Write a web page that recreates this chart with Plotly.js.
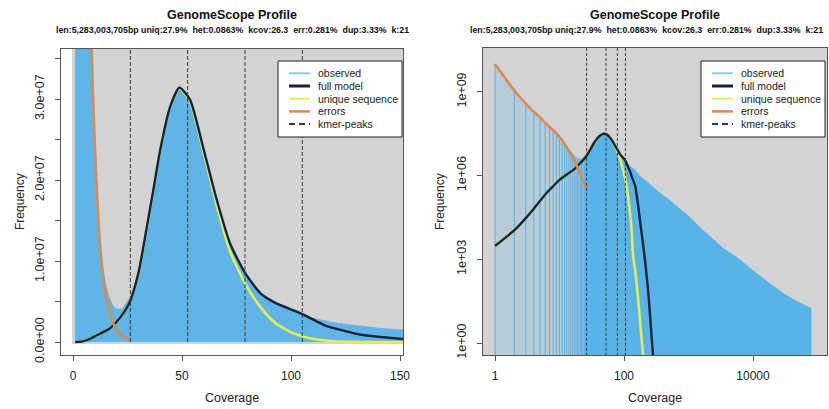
<!DOCTYPE html>
<html><head><meta charset="utf-8">
<script src="https://cdn.plot.ly/plotly-3.0.1.min.js"></script>
<style>html,body{margin:0;padding:0;background:#fff}</style>
</head><body><div id="chart" style="width:829px;height:409px"></div>
<script>
// ---------------- data ----------------
const obsX = [1,2,3,4,5,6,7,8,9,10,11,12,13,14,15,16,17,18,19,20,21,22,23,24,25,26,27,28,29,30,
  33,36,40,44,48,52,56,60,66,72,79,86,93,100,110,120,130,140,150,175,200,250,300,400,517,700,1000,1690,2500,3500,5600,8000,12000,18300,30000,50000,80000];
const obsY = [1.0e10,1.1e9,3.8e8,1.9e8,1.2e8,7.8e7,5.5e7,4.3e7,3.3e7,2.5e7,1.95e7,1.45e7,1.1e7,8.9e6,7.3e6,6.1e6,5.3e6,4.7e6,4.3e6,4.1e6,4.0e6,4.1e6,4.3e6,4.7e6,5.1e6,5.5e6,6.2e6,7.0e6,7.8e6,8.8e6,
  1.25e7,1.7e7,2.37e7,2.85e7,3.13e7,3.05e7,2.75e7,2.37e7,1.75e7,1.22e7,8.6e6,6.1e6,4.9e6,4.1e6,3.0e6,2.4e6,2.05e6,1.75e6,1.55e6,1.0e6,7.6e5,4.9e5,3.5e5,2.0e5,1.3e5,7.2e4,3.6e4,1.1e4,5.0e3,2.5e3,1.2e3,6.0e2,2.9e2,1.4e2,60,30,18];

const modelX = [1,2,3,4,6,8,10,13,17,20,23,26,30,34,37,40,44.5,48.8,53.7,60,66,72,79,86,93,104,116,125,132,140,150,160,167,180,200,220,238,255,270,290];
const modelY = [3e3,1.1e4,3e4,6.5e4,2.1e5,4.2e5,7e5,1.1e6,1.7e6,2.5e6,3.5e6,4.9e6,8.5e6,1.44e7,1.9e7,2.37e7,2.9e7,3.14e7,2.99e7,2.37e7,1.75e7,1.22e7,8.5e6,6.0e6,4.8e6,3.6e6,2.0e6,1.35e6,9e5,6.5e5,4e5,1.5e5,7.4e4,1.8e4,2.8e3,4e2,63,8,1.3,0.15];

const uniqX = [1,2,3,4,6,8,10,13,17,20,23,26,30,34,37,40,44.5,48.8,53.7,60,66,72,79,86,93,101,110,120,130,139,150,165,188,205];
const uniqY = [3e3,1.1e4,3e4,6.5e4,2.1e5,4.2e5,7e5,1.1e6,1.7e6,2.5e6,3.5e6,4.9e6,8.5e6,1.44e7,1.9e7,2.37e7,2.9e7,3.13e7,2.97e7,2.33e7,1.68e7,1.12e7,7.2e6,4.3e6,2.3e6,1.1e6,4e5,9e4,1.5e4,1.2e3,3.5e2,40,1.3,0.15];

const errX = [1,2,3,4,5,6,7,8,9,10,11,12,13,14,15,16,17,18,19,20,21,22,23,24,25,26];
const errY = [1.0e10,1.1e9,3.8e8,1.9e8,1.2e8,7.8e7,5.5e7,4.2e7,3.2e7,2.45e7,1.85e7,1.35e7,1.0e7,7.6e6,5.9e6,4.6e6,3.6e6,2.7e6,2.0e6,1.5e6,1.15e6,9e5,7e5,5.5e5,4.3e5,3.4e5];

const kmerPeaks = [26.3, 52.6, 78.9, 105.2];

const xTickValsLin = [0,50,100,150];
const xTickTextLin = ['0','50','100','150'];
const yTickValsLin = [0,5e6,1e7,1.5e7,2e7,2.5e7,3e7,3.5e7];
const yTickTextLin = ['0.0e+00','','1.0e+07','','2.0e+07','','3.0e+07',''];
const xTickValsLog = [1,100,10000];
const xTickTextLog = ['1','100','10000'];
const yTickValsLog = [1,1e3,1e6,1e9];
const yTickTextLog = ['1e+00','1e+03','1e+06','1e+09'];

const titleText = 'GenomeScope Profile';
const subtitleText = 'len:5,283,003,705bp uniq:27.9%  het:0.0863%  kcov:26.3  err:0.281%  dup:3.33%  k:21';
const legendLabels = ['observed','full model','unique sequence','errors','kmer-peaks'];
const xTitle = 'Coverage';
const yTitle = 'Frequency';

// ---------------- styling / layout helpers ----------------
const W = 829, H = 409;
const px = v => v / W;
const py = v => 1 - v / H;
const FONT = 'Liberation Sans, Arial, Helvetica, sans-serif';
const C_OBS = '#58B3E7', C_OBS_L = '#60B5E6', C_MODEL = '#13233A', C_UNIQ = '#E6EC55', C_ERR = '#D98A55', C_PEAK = '#3A3A3A', C_BG = '#D3D3D3';

const yRangeL = [-1.605e6, 3.6173e7];
const yRangeR = [-0.4286, 10.571];

function vsegs(xs, lo, hi) {
  const x = [], y = [];
  xs.forEach(p => { x.push(p, p, null); y.push(lo, hi, null); });
  return {x, y};
}

const traces = [];
// ---- left (linear) ----
traces.push({x: obsX, y: obsY, xaxis: 'x', yaxis: 'y', mode: 'lines', fill: 'tozeroy',
  fillcolor: C_OBS_L, line: {width: 0, color: C_OBS_L}, showlegend: false, hoverinfo: 'skip'});
traces.push({x: uniqX, y: uniqY, xaxis: 'x', yaxis: 'y', mode: 'lines', line: {color: C_UNIQ, width: 2.6, shape: 'spline', smoothing: 0.6}, showlegend: false});
traces.push({x: modelX, y: modelY, xaxis: 'x', yaxis: 'y', mode: 'lines', line: {color: C_MODEL, width: 2.4, shape: 'spline', smoothing: 0.6}, showlegend: false});
traces.push({x: errX, y: errY, xaxis: 'x', yaxis: 'y', mode: 'lines', line: {color: C_ERR, width: 2.6, shape: 'spline', smoothing: 0.5}, showlegend: false});
const pkL = vsegs(kmerPeaks, 0, yRangeL[1]);
traces.push({x: pkL.x, y: pkL.y, xaxis: 'x', yaxis: 'y', mode: 'lines', line: {color: C_PEAK, width: 1, dash: '4px,2px'}, showlegend: false});

// ---- right (log-log) ----
traces.push({x: obsX, y: obsY, xaxis: 'x2', yaxis: 'y2', mode: 'lines', fill: 'tozeroy',
  fillcolor: 'rgba(86,180,233,0.22)', line: {width: 0}, showlegend: false, hoverinfo: 'skip'});
const lowIdx = obsX.map((v, i) => i).filter(i => obsX[i] <= 30);
const barX = [], barY = [];
lowIdx.forEach(i => { barX.push(obsX[i], obsX[i], null); barY.push(0.1, obsY[i], null); });
traces.push({x: barX, y: barY, xaxis: 'x2', yaxis: 'y2', mode: 'lines', line: {color: '#5FAEDF', width: 1}, showlegend: false});
const hiIdx = obsX.map((v, i) => i).filter(i => obsX[i] >= 24);
traces.push({x: hiIdx.map(i => obsX[i]), y: hiIdx.map(i => obsY[i]), xaxis: 'x2', yaxis: 'y2', mode: 'lines', fill: 'tozeroy',
  fillcolor: C_OBS, line: {width: 0}, showlegend: false});
traces.push({x: uniqX, y: uniqY, xaxis: 'x2', yaxis: 'y2', mode: 'lines', line: {color: C_UNIQ, width: 2.6, shape: 'spline', smoothing: 0.5}, showlegend: false});
traces.push({x: modelX, y: modelY, xaxis: 'x2', yaxis: 'y2', mode: 'lines', line: {color: C_MODEL, width: 2.4, shape: 'spline', smoothing: 0.5}, showlegend: false});
traces.push({x: errX, y: errY, xaxis: 'x2', yaxis: 'y2', mode: 'lines', line: {color: C_ERR, width: 2.6, shape: 'spline', smoothing: 0.4}, showlegend: false});
const pkR = vsegs(kmerPeaks, 0.1, 1e11);
traces.push({x: pkR.x, y: pkR.y, xaxis: 'x2', yaxis: 'y2', mode: 'lines', line: {color: C_PEAK, width: 1, dash: '3px,2px'}, showlegend: false});

// ---------------- axes ----------------
const axBase = {
  showgrid: false, zeroline: false, showline: true, mirror: true, linecolor: '#555', linewidth: 1,
  ticks: 'outside', ticklen: 5, tickcolor: '#555', tickwidth: 1,
  tickfont: {family: FONT, size: 12, color: '#222'}, tickmode: 'array', fixedrange: true
};
const yTickFont = {family: FONT, size: 12.5, color: '#222'};
const layout = {
  width: W, height: H, margin: {l: 0, r: 0, t: 0, b: 0},
  paper_bgcolor: '#fff', plot_bgcolor: 'rgba(0,0,0,0)', showlegend: false,
  font: {family: FONT},
  xaxis: Object.assign({}, axBase, {domain: [px(61), px(403)], range: [-5.505, 151.376], anchor: 'y',
    tickvals: xTickValsLin, ticktext: xTickTextLin, ticklabelstandoff: 5}),
  yaxis: Object.assign({}, axBase, {domain: [py(355), py(49)], range: yRangeL, anchor: 'x',
    tickvals: yTickValsLin, ticktext: yTickTextLin, tickangle: -90, ticklabelstandoff: 6, tickfont: yTickFont}),
  xaxis2: Object.assign({}, axBase, {type: 'log', domain: [px(483), px(827)], range: [-0.186, 5.147], anchor: 'y2',
    tickvals: xTickValsLog, ticktext: xTickTextLog, ticklabelstandoff: 5}),
  yaxis2: Object.assign({}, axBase, {type: 'log', domain: [py(355), py(48)], range: yRangeR, anchor: 'x2',
    tickvals: yTickValsLog, ticktext: yTickTextLog, tickangle: -90, ticklabelstandoff: 6, tickfont: yTickFont}),
  shapes: [],
  annotations: []
};

// gray plotting backgrounds
layout.shapes.push({type: 'rect', xref: 'paper', yref: 'paper', x0: px(72), x1: px(403), y0: py(344), y1: py(49),
  fillcolor: C_BG, line: {width: 0}, layer: 'below'});
layout.shapes.push({type: 'rect', xref: 'paper', yref: 'paper', x0: px(483), x1: px(827), y0: py(355), y1: py(48),
  fillcolor: C_BG, line: {width: 0}, layer: 'below'});

// legends
function addLegend(left, top) {
  const w = 124, h = 76;
  layout.shapes.push({type: 'rect', xref: 'paper', yref: 'paper', x0: px(left), x1: px(left + w), y0: py(top + h), y1: py(top),
    fillcolor: '#fff', line: {color: '#222', width: 1}, layer: 'above'});
  const styles = [
    {color: '#8CC8EA', width: 2},
    {color: C_MODEL, width: 3},
    {color: C_UNIQ, width: 2},
    {color: C_ERR, width: 2.5},
    {color: C_PEAK, width: 2, dash: '6px,4px'}
  ];
  legendLabels.forEach((lab, i) => {
    const yy = top + 12.3 + i * 12.7;
    layout.shapes.push({type: 'line', xref: 'paper', yref: 'paper', x0: px(left + 11), x1: px(left + 32), y0: py(yy), y1: py(yy),
      line: styles[i], layer: 'above'});
    layout.annotations.push({xref: 'paper', yref: 'paper', x: px(left + 38), y: py(yy), xanchor: 'left', yanchor: 'middle',
      text: lab, showarrow: false, font: {family: FONT, size: 10.5, color: '#222'}});
  });
}
addLegend(278, 61);
addLegend(701, 61);

// titles and axis titles: [title/axis-title centre, subtitle centre]
[[232, 232], [655, 646]].forEach(([cx, sx]) => {
  layout.annotations.push({xref: 'paper', yref: 'paper', x: px(cx), y: py(15), xanchor: 'center', yanchor: 'middle',
    text: '<b>' + titleText + '</b>', showarrow: false, font: {family: FONT, size: 12.5, color: '#111'}});
  layout.annotations.push({xref: 'paper', yref: 'paper', x: px(sx), y: py(30), xanchor: 'center', yanchor: 'middle',
    text: '<b>' + subtitleText + '</b>', showarrow: false, font: {family: FONT, size: 8.8, color: '#111'}});
  layout.annotations.push({xref: 'paper', yref: 'paper', x: px(cx), y: py(398), xanchor: 'center', yanchor: 'middle',
    text: xTitle, showarrow: false, font: {family: FONT, size: 12.5, color: '#222'}});
});
[[20], [440]].forEach(([cx]) => {
  layout.annotations.push({xref: 'paper', yref: 'paper', x: px(cx), y: py(202), xanchor: 'center', yanchor: 'middle',
    text: yTitle, textangle: -90, showarrow: false, font: {family: FONT, size: 12, color: '#222'}});
});

Plotly.newPlot('chart', traces, layout, {staticPlot: true, displayModeBar: false});
</script>
</body></html>
